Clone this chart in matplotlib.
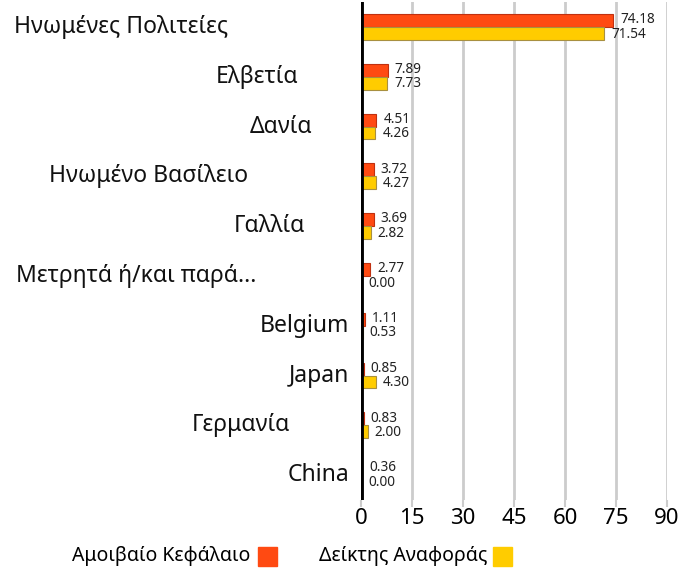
import matplotlib
matplotlib.use("Agg")
from matplotlib import pyplot as plt
import numpy as np

plt.rcParams["font.family"] = ["Noto Sans", "DejaVu Sans"]

categories = [
    "Ηνωμένες Πολιτείες", "Ελβετία", "Δανία", "Ηνωμένο Βασίλειο", "Γαλλία",
    "Μετρητά ή/και παρά...", "Belgium", "Japan", "Γερμανία", "China",
]
fund = [74.18, 7.89, 4.51, 3.72, 3.69, 2.77, 1.11, 0.85, 0.83, 0.36]
benchmark = [71.54, 7.73, 4.26, 4.27, 2.82, 0.00, 0.53, 4.30, 2.00, 0.00]
# right edge of each category label, in figure pixels (as in the reference)
label_right = [228, 298, 312, 248, 305, 256, 349, 349, 290, 349]
xticks = [0, 15, 30, 45, 60, 75, 90]

RED = "#ff4a12"
YELLOW = "#ffcc00"

W, H = 692, 572
fig = plt.figure(figsize=(W / 100, H / 100), dpi=100)
ax = fig.add_axes([361 / W, 1 - 500 / H, (667 - 361) / W, 498 / H])

y = np.arange(len(categories))
bh = 0.26
ax.barh(y - bh / 2, fund, height=bh, color=RED, edgecolor="#c03010", linewidth=0.8, zorder=3)
ax.barh(y + bh / 2, benchmark, height=bh, color=YELLOW, edgecolor="#a89040", linewidth=0.8, zorder=3)

for i in range(len(categories)):
    ax.annotate(f"{fund[i]:.2f}", (fund[i], y[i] - bh / 2), xytext=(5, 0.5),
                textcoords="offset points", va="center", ha="left", fontsize=9.8, color="#222222")
    ax.annotate(f"{benchmark[i]:.2f}", (benchmark[i], y[i] + bh / 2), xytext=(5, -0.5),
                textcoords="offset points", va="center", ha="left", fontsize=9.8, color="#222222")
    fig.text(label_right[i] / W, 1 - (27 + 49.8 * i) / H, categories[i],
             ha="right", va="center", fontsize=16.5, color="#111111")

ax.set_xlim(0, 90)
ax.set_ylim(len(categories) - 0.5, -0.5)
ax.set_xticks(xticks)
ax.set_xticklabels([str(t) for t in xticks], fontsize=16)
ax.set_yticks([])
ax.grid(axis="x", color="#cccccc", linewidth=2, zorder=0)
ax.tick_params(axis="x", length=5, width=1.5, color="#cccccc", pad=1)
for s in ax.spines.values():
    s.set_visible(False)
ax.axvline(0, color="black", linewidth=3.5, zorder=4)

# legend
ly = 1 - 556 / H
fig.text(250 / W, ly, "Αμοιβαίο Κεφάλαιο", ha="right", va="center", fontsize=14)
fig.patches.append(plt.Rectangle((258 / W, 1 - 566 / H), 19 / W, 19 / H,
                                 transform=fig.transFigure, color=RED))
fig.text(487 / W, ly, "Δείκτης Αναφοράς", ha="right", va="center", fontsize=14)
fig.patches.append(plt.Rectangle((493 / W, 1 - 566 / H), 19 / W, 19 / H,
                                 transform=fig.transFigure, color=YELLOW))

fig.savefig("out.png", dpi=100)
